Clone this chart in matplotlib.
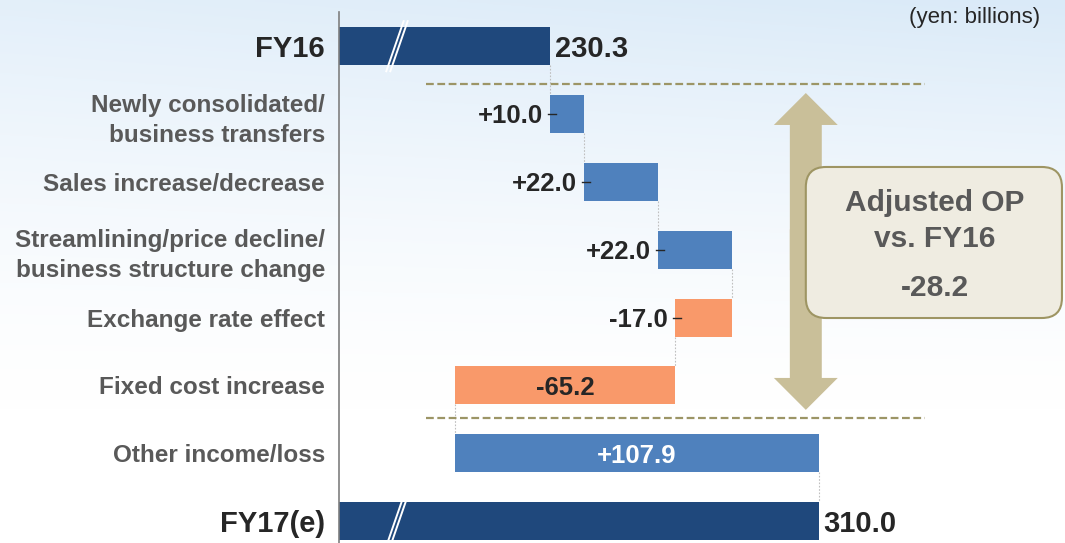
import numpy as np
import matplotlib.pyplot as plt
from matplotlib.patches import FancyArrowPatch, FancyBboxPatch

plt.rcParams['font.family'] = ['Liberation Sans', 'DejaVu Sans']

# data (yen: billions)
categories = ['FY16', 'Newly consolidated/\nbusiness transfers', 'Sales increase/decrease',
              'Streamlining/price decline/\nbusiness structure change', 'Exchange rate effect',
              'Fixed cost increase', 'Other income/loss', 'FY17(e)']
start_total = 230.3
deltas = [10.0, 22.0, 22.0, -17.0, -65.2, 107.9]
end_total = 310.0
unit_note = '(yen: billions)'

XMIN, XMAX = 167.7, 383.1   # broken axis, bars start at XMIN
dark = '#1F487C'
blue = '#4F81BD'
orange = '#F9996A'
gray_txt = '#595959'
txt = '#262626'

fig = plt.figure(figsize=(10.65, 5.43), dpi=100)

# background gradient
bg = fig.add_axes([0, 0, 1, 1], zorder=0)
yy, xx = np.mgrid[0:1:200j, 0:1:300j]
f = np.clip(1 - yy / 0.75, 0, 1) ** 1.4 * (0.75 + 0.25 * xx)
top = np.array([218, 234, 248]) / 255
img = (1 - f[..., None]) * np.array([1.0, 1.0, 1.0]) + f[..., None] * top
bg.imshow(img, aspect='auto', extent=[0, 1, 0, 1], origin='upper')
bg.axis('off')

ax = fig.add_axes([339 / 1065, 0, 1 - 339 / 1065, 1], zorder=1)
ax.patch.set_alpha(0)
n = len(categories)
y = np.arange(n)
ax.set_xlim(XMIN, XMAX)
ax.set_ylim(7.322, -0.681)
h = 0.56
dy = 0.035  # nudge numbers down a touch

# totals
ax.barh(0, start_total - XMIN, left=XMIN, height=h, color=dark, zorder=2)
ax.barh(n - 1, end_total - XMIN, left=XMIN, height=h, color=dark, zorder=2)
ax.text(start_total + 1.5, 0 + dy, f'{start_total:.1f}', ha='left', va='center',
        fontsize=21, fontweight='bold', color=txt)
ax.text(end_total + 1.5, n - 1 + dy, f'{end_total:.1f}', ha='left', va='center',
        fontsize=21, fontweight='bold', color=txt)

# break marks
bx = XMIN + 17.2
for row in [0, n - 1]:
    for off in [-0.6, 0.6]:
        ax.plot([bx - 2.67 + off, bx + 2.67 + off], [row + 0.383, row - 0.383],
                color='white', lw=1.4, zorder=3, solid_capstyle='butt')

# steps
cum = start_total
ends = [start_total]
for i, d in enumerate(deltas, start=1):
    c = blue if d > 0 else orange
    ax.barh(i, d, left=cum, height=h, color=c, zorder=2)
    lab = f'{d:+.1f}'
    lo = min(cum, cum + d)
    if abs(d) > 40:
        ax.text(cum + d / 2, i + dy, lab, ha='center', va='center', fontsize=18.5,
                fontweight='bold', color='white' if d > 0 else txt, zorder=4)
    else:
        ax.text(lo - 2.1, i + dy, lab, ha='right', va='center', fontsize=18.5,
                fontweight='bold', color=txt, zorder=4)
        ax.plot([lo - 0.6, lo + 1.8], [i, i], color='#262626', lw=1, zorder=4)
    cum += d
    ends.append(cum)

# connectors
for i, xc in enumerate(ends):
    ax.plot([xc, xc], [i + h / 2, i + 1 - h / 2], color='#BFBFBF', lw=0.8,
            ls=(0, (1.5, 1.5)), zorder=1)

# dashed separators
for yl in [0.55, 5.48]:
    ax.plot([193.5, 341.5], [yl, yl], color='#9C9566', lw=1.6,
            ls=(0, (3.5, 1.6)), zorder=1)

# double arrow (two halves overlapping in the middle)
arr_x = 306.2
for start, tgt in [(3.3, 0.69), (2.7, 5.36)]:
    ax.add_patch(FancyArrowPatch((arr_x, start), (arr_x, tgt),
                                 arrowstyle='simple,head_length=23,head_width=46,tail_width=23',
                                 mutation_scale=1, shrinkA=0, shrinkB=0,
                                 color='#C9BF99', lw=0, zorder=2))

# summary box
asp = (1 / 67.85) / (1 / 3.371)
ax.add_patch(FancyBboxPatch((306.2, 1.78), 76.0, 2.226,
                            boxstyle='round,pad=0,rounding_size=6',
                            mutation_aspect=asp, facecolor='#EFECE1',
                            edgecolor='#9E9563', lw=1.5, zorder=3))
ax.text(344.5, 2.31, 'Adjusted OP', ha='center', va='center', fontsize=21.5,
        fontweight='bold', color=gray_txt, zorder=4)
ax.text(344.5, 2.84, 'vs. FY16', ha='center', va='center', fontsize=21.5,
        fontweight='bold', color=gray_txt, zorder=4)
ax.text(344.5, 3.57, f'{sum(deltas[:-1]):.1f}', ha='center', va='center',
        fontsize=21.5, fontweight='bold', color=gray_txt, zorder=4)

# axes styling
for s in ['top', 'right', 'bottom']:
    ax.spines[s].set_visible(False)
ax.spines['left'].set_color('#7F7F7F')
ax.spines['left'].set_linewidth(1.2)
ax.spines['left'].set_bounds(-0.5, 7.4)
ax.set_xticks([])
ax.set_yticks(y)
ax.set_yticklabels(categories)
ax.tick_params(axis='y', length=0, pad=10)
for i, t in enumerate(ax.get_yticklabels()):
    t.set_fontweight('bold')
    t.set_linespacing(1.4)
    if i in (0, n - 1):
        t.set_fontsize(21)
        t.set_color(txt)
    else:
        t.set_fontsize(17.5)
        t.set_color(gray_txt)

fig.text(1040 / 1065, 1 - 18 / 543, unit_note, ha='right', va='center',
         fontsize=16, color=txt)

fig.savefig('out.png', dpi=100)
